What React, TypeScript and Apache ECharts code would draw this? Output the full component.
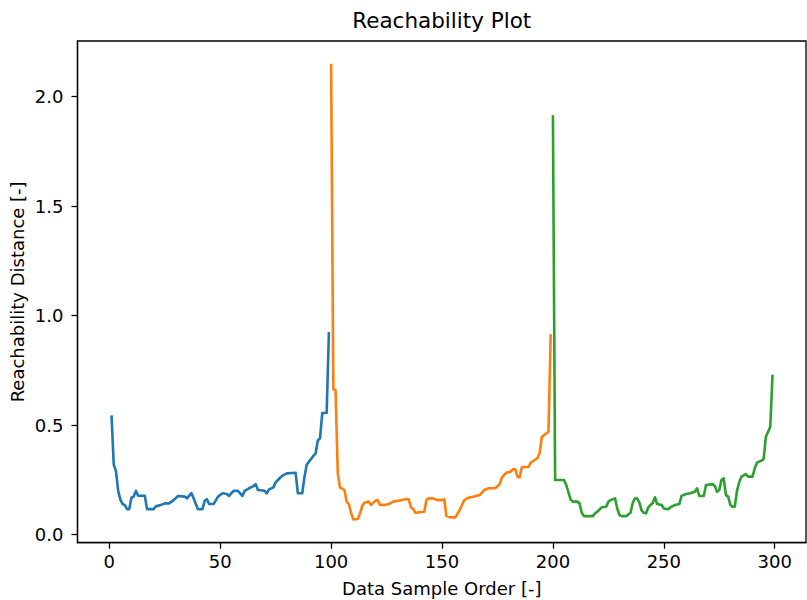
import React, { useEffect, useRef } from "react";
import * as echarts from "echarts";

// Reachability distances per cluster, as [sample order, distance]
const clusterA: [number, number][] = [
  [1, 0.545], [2, 0.32], [3, 0.29], [4, 0.2], [5, 0.16], [6, 0.14], [7, 0.135], [8, 0.117], [9, 0.117],
  [10, 0.17], [11, 0.174], [12, 0.2], [13, 0.178], [16, 0.178], [17, 0.117], [20, 0.117], [21, 0.13],
  [23, 0.135], [25, 0.143], [27, 0.143], [29, 0.158], [31, 0.177], [34, 0.174], [35, 0.166], [37, 0.19],
  [38, 0.166], [39, 0.14], [40, 0.116], [42, 0.116], [43, 0.155], [44, 0.162], [45, 0.14], [47, 0.14],
  [49, 0.174], [51, 0.189], [53, 0.186], [54, 0.177], [56, 0.2], [58, 0.2], [60, 0.177], [61, 0.2],
  [63, 0.212], [65, 0.222], [66, 0.231], [67, 0.204], [70, 0.201], [71, 0.189], [72, 0.207], [74, 0.216],
  [75, 0.239], [77, 0.26], [78, 0.269], [80, 0.28], [84, 0.283], [85, 0.189], [87, 0.189], [88, 0.265],
  [89, 0.32], [91, 0.346], [92, 0.36], [93, 0.37], [94, 0.43], [95, 0.44], [96, 0.555], [98, 0.557],
  [99, 0.925],
];

const clusterB: [number, number][] = [
  [100, 2.15], [101, 0.665], [102, 0.66], [103, 0.28], [104, 0.215], [105, 0.21], [106, 0.204],
  [107, 0.15], [108, 0.14], [109, 0.1], [110, 0.07], [112, 0.072], [113, 0.095], [114, 0.13],
  [115, 0.146], [117, 0.151], [118, 0.136], [120, 0.155], [121, 0.158], [122, 0.136], [124, 0.136],
  [126, 0.14], [128, 0.151], [130, 0.155], [132, 0.158], [134, 0.163], [135, 0.162], [136, 0.125],
  [137, 0.118], [138, 0.1], [142, 0.105], [143, 0.158], [144, 0.166], [146, 0.166], [148, 0.158],
  [150, 0.158], [151, 0.162], [152, 0.085], [154, 0.079], [156, 0.079], [158, 0.113], [160, 0.158],
  [162, 0.169], [165, 0.176], [167, 0.181], [169, 0.204], [171, 0.212], [174, 0.212], [176, 0.231],
  [177, 0.262], [179, 0.283], [181, 0.288], [182, 0.299], [183, 0.299], [184, 0.265], [185, 0.262],
  [186, 0.308], [189, 0.31], [190, 0.329], [193, 0.349], [194, 0.372], [195, 0.445], [196, 0.455],
  [198, 0.47], [199, 0.915],
];

const clusterC: [number, number][] = [
  [200, 1.915], [201, 0.25], [205, 0.25], [206, 0.227], [208, 0.16], [209, 0.151], [211, 0.151],
  [212, 0.143], [213, 0.1], [214, 0.085], [218, 0.085], [219, 0.098], [220, 0.105], [222, 0.125],
  [224, 0.128], [225, 0.15], [226, 0.158], [228, 0.166], [229, 0.12], [230, 0.09], [231, 0.085],
  [233, 0.085], [235, 0.1], [236, 0.146], [237, 0.166], [238, 0.165], [239, 0.146], [240, 0.11],
  [241, 0.1], [242, 0.098], [243, 0.125], [244, 0.136], [245, 0.145], [246, 0.171], [247, 0.14],
  [249, 0.136], [250, 0.12], [252, 0.116], [253, 0.125], [255, 0.136], [257, 0.14], [258, 0.177],
  [260, 0.186], [262, 0.189], [264, 0.196], [265, 0.212], [266, 0.177], [268, 0.177], [269, 0.227],
  [272, 0.231], [273, 0.222], [274, 0.196], [275, 0.204], [276, 0.25], [277, 0.257], [278, 0.181],
  [279, 0.174], [280, 0.136], [281, 0.128], [282, 0.128], [283, 0.2], [284, 0.24], [285, 0.265],
  [287, 0.277], [288, 0.265], [290, 0.265], [291, 0.303], [292, 0.329], [294, 0.338], [295, 0.345],
  [296, 0.447], [298, 0.493], [299, 0.73],
];

const xTicks = [0, 50, 100, 150, 200, 250, 300];
const yTicks = [0, 0.5, 1, 1.5, 2];

const colors = ["#1f77b4", "#ff7f0e", "#2ca02c"];
const FONT = "DejaVu Sans";

export default function App() {
  const ref = useRef<HTMLDivElement>(null);

  useEffect(() => {
    if (!ref.current) return;
    const chart = echarts.init(ref.current, undefined, { renderer: "svg" });

    const gridLeft = 77.5;
    const gridTop = 41;
    const gridWidth = 728.5;
    const gridHeight = 501.7;

    const lineSeries = (data: [number, number][], color: string) => ({
      type: "line",
      data,
      showSymbol: false,
      symbol: "none",
      lineStyle: { color, width: 2.6, join: "round", cap: "butt" },
      itemStyle: { color },
      z: 3,
    });

    chart.setOption({
      animation: false,
      backgroundColor: "#ffffff",
      grid: {
        left: gridLeft,
        top: gridTop,
        width: gridWidth,
        height: gridHeight,
        show: true,
        borderColor: "#000000",
        borderWidth: 1.3,
        backgroundColor: "transparent",
        containLabel: false,
      },
      xAxis: {
        type: "value",
        min: -14.34,
        max: 314.1,
        axisLine: { show: true, onZero: false, lineStyle: { color: "#000", width: 1.3 } },
        axisTick: {
          show: true,
          length: 6,
          inside: false,
          customValues: xTicks,
          lineStyle: { color: "#000", width: 1.3 },
        },
        axisLabel: {
          show: true,
          customValues: xTicks,
          margin: 10,
          color: "#000",
          fontFamily: FONT,
          fontSize: 18,
          formatter: (v: number) => String(v),
        },
        splitLine: { show: false },
      },
      yAxis: {
        type: "value",
        min: -0.0365,
        max: 2.254,
        axisLine: { show: true, onZero: false, lineStyle: { color: "#000", width: 1.3 } },
        axisTick: {
          show: true,
          length: 6,
          inside: false,
          customValues: yTicks,
          lineStyle: { color: "#000", width: 1.3 },
        },
        axisLabel: {
          show: true,
          customValues: yTicks,
          margin: 14,
          color: "#000",
          fontFamily: FONT,
          fontSize: 18,
          formatter: (v: number) => v.toFixed(1),
        },
        splitLine: { show: false },
      },
      graphic: [
        {
          type: "text",
          x: gridLeft + gridWidth / 2,
          y: 20,
          style: {
            text: "Reachability Plot",
            fontFamily: FONT,
            fontSize: 21.5,
            fill: "#000",
            textAlign: "center",
            textVerticalAlign: "middle",
          },
        },
        {
          type: "text",
          x: gridLeft + gridWidth / 2,
          y: 588,
          style: {
            text: "Data Sample Order [-]",
            fontFamily: FONT,
            fontSize: 18,
            fill: "#000",
            textAlign: "center",
            textVerticalAlign: "middle",
          },
        },
        {
          type: "text",
          x: 17.5,
          y: gridTop + gridHeight / 2,
          rotation: Math.PI / 2,
          style: {
            text: "Reachability Distance [-]",
            fontFamily: FONT,
            fontSize: 18,
            fill: "#000",
            textAlign: "center",
            textVerticalAlign: "middle",
          },
        },
      ],
      series: [
        lineSeries(clusterA, colors[0]),
        lineSeries(clusterB, colors[1]),
        lineSeries(clusterC, colors[2]),
      ],
    });

    return () => chart.dispose();
  }, []);

  return (
    <div
      ref={ref}
      style={{ position: "fixed", left: 0, top: 0, width: 807, height: 600 }}
    />
  );
}
